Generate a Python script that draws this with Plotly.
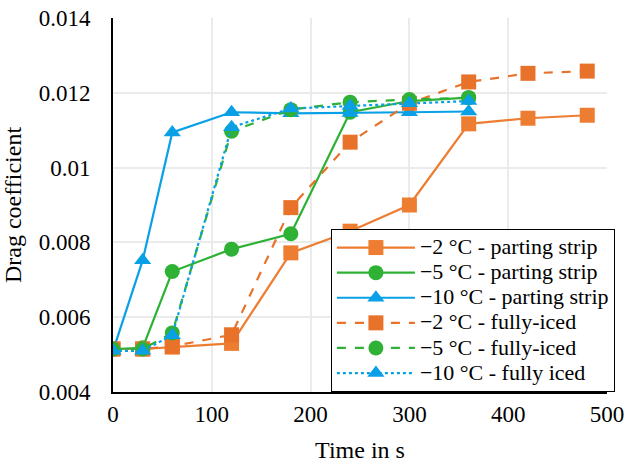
import plotly.graph_objects as go

t_long = [0, 30, 60, 120, 180, 240, 300, 360, 420, 480]
t_short = [0, 30, 60, 120, 180, 240, 300, 360]

m2_strip = [0.00515, 0.00515, 0.0052, 0.0053, 0.00772, 0.0083, 0.0090, 0.01117, 0.01132, 0.0114]
m5_strip = [0.00515, 0.00518, 0.00722, 0.00782, 0.00823, 0.01148, 0.01178, 0.01187]
m10_strip = [0.0051, 0.00752, 0.01094, 0.01148, 0.01145, 0.01146, 0.01148, 0.0115]
m2_full = [0.00515, 0.00515, 0.00522, 0.00553, 0.00893, 0.01068, 0.01172, 0.01229, 0.01252, 0.01258]
m5_full = [0.00515, 0.00515, 0.00558, 0.01097, 0.01155, 0.01175, 0.01182, 0.01187]
m10_full = [0.0051, 0.0051, 0.00552, 0.01108, 0.01158, 0.01165, 0.01172, 0.01178]

names = ["\u22122 \u00b0C - parting strip", "\u22125 \u00b0C - parting strip", "\u221210 \u00b0C - parting strip",
         "\u22122 \u00b0C - fully-iced", "\u22125 \u00b0C - fully-iced", "\u221210 \u00b0C - fully iced"]

ORANGE = "#ED7D31"
ORANGE_D = "#E9722A"
GREEN = "#2EB135"
BLUE = "#0AA0E6"

series = [
    (t_long, m2_strip, ORANGE, "square", "solid"),
    (t_short, m5_strip, GREEN, "circle", "solid"),
    (t_short, m10_strip, BLUE, "triangle-up", "solid"),
    (t_long, m2_full, ORANGE_D, "square", "dash"),
    (t_short, m5_full, GREEN, "circle", "dash"),
    (t_short, m10_full, BLUE, "triangle-up", "dot"),
]

font = "Liberation Serif"

fig = go.Figure()
for (x, y, c, sym, dash), n in zip(series, names):
    fig.add_trace(go.Scatter(
        x=x, y=y, name='<span style="font-size:22px">' + n + '</span>',
        mode="lines+markers",
        line=dict(color=c, width=2.2, dash=dash),
        marker=dict(color=c, symbol=sym, size=15),
    ))

fig.update_layout(
    width=634, height=466,
    margin=dict(l=113, r=27, t=18, b=74),
    plot_bgcolor="white", paper_bgcolor="white",
    font=dict(family=font, size=23, color="black"),
    showlegend=True,
    legend=dict(
        x=1.016, xanchor="right", y=0, yanchor="bottom",
        bgcolor="white", bordercolor="black", borderwidth=1,
        font=dict(family=font, size=17, color="black"),
        itemwidth=78, tracegroupgap=0, itemsizing="trace",
    ),
    xaxis=dict(
        range=[0, 500], dtick=100, showgrid=True, gridcolor="#EBEBEB", gridwidth=1.5,
        showline=True, linecolor="black", linewidth=2, zeroline=False,
        ticks="", automargin=False,
        title=dict(text="Time in s", standoff=16, font=dict(family=font, size=24)),
        tickfont=dict(family=font, size=23),
    ),
    yaxis=dict(
        range=[0.004, 0.014], dtick=0.002, showgrid=True, gridcolor="#EBEBEB", gridwidth=1.5,
        showline=True, linecolor="black", linewidth=2, zeroline=False,
        ticks="", automargin=False, ticklabelstandoff=16,
        title=dict(text="Drag coefficient", standoff=10, font=dict(family=font, size=24)),
        tickfont=dict(family=font, size=23), tickformat="~g",
    ),
)

fig.write_html("out.html")
